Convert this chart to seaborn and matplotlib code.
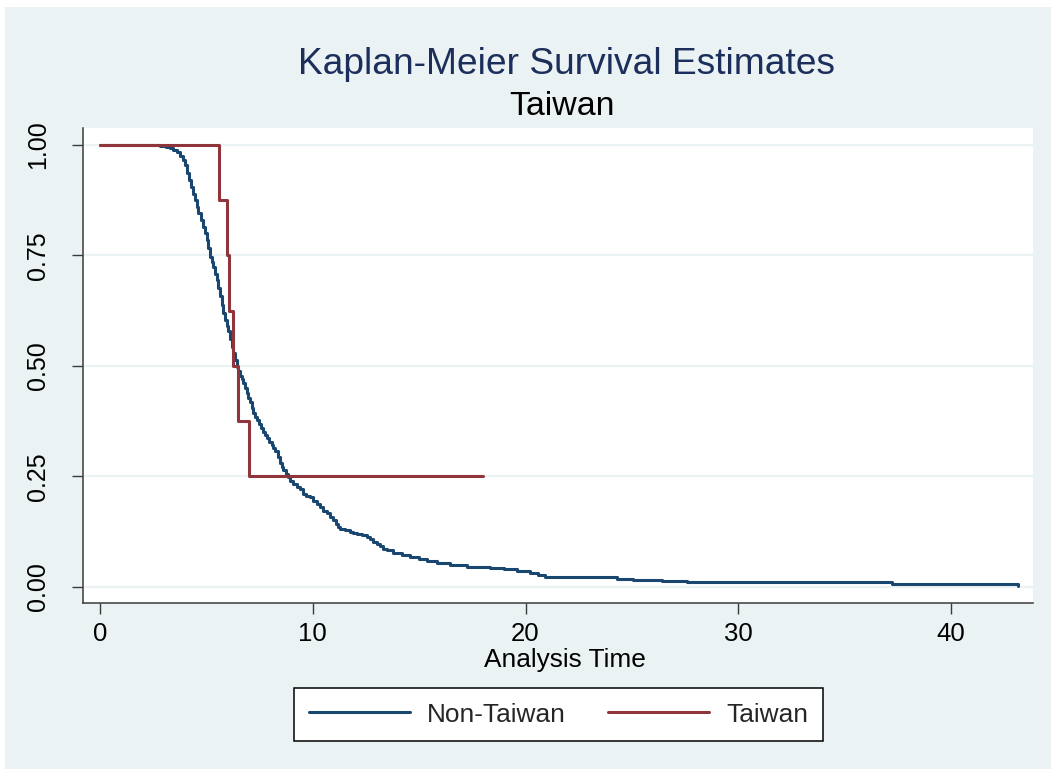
import numpy as np
import pandas as pd
import matplotlib
matplotlib.use("Agg")
import matplotlib.pyplot as plt
from matplotlib.patches import Rectangle
from matplotlib.lines import Line2D
import seaborn as sns

# ---- data ----
groups = ["Non-Taiwan", "Taiwan"]

non_taiwan_time = [0, 1.8, 2.8, 3.1, 3.29, 3.45, 3.60, 3.76, 3.89, 3.99, 4.07, 4.17, 4.26, 4.37,
                   4.47, 4.55, 4.62, 4.74, 4.86, 4.94, 5.01, 5.09, 5.17, 5.25, 5.33, 5.40, 5.48,
                   5.56, 5.64, 5.72, 5.80, 5.88, 5.96, 6.03, 6.11, 6.19, 6.27, 6.35, 6.42, 6.50,
                   6.58, 6.66, 6.74, 6.82, 6.90, 6.97, 7.05, 7.13, 7.21, 7.28, 7.36, 7.45, 7.55,
                   7.68, 7.75, 7.83, 7.95, 8.07, 8.15, 8.23, 8.35, 8.46, 8.55, 8.62, 8.73, 8.85,
                   8.95, 9.09, 9.24, 9.40, 9.56, 9.70, 9.87, 10.03, 10.19, 10.34, 10.50, 10.65,
                   10.81, 10.95, 11.10, 11.20, 11.28, 11.50, 11.75, 11.91, 12.1, 12.3, 12.53,
                   12.7, 12.85, 13.0, 13.16, 13.3, 13.5, 13.79, 14.2, 14.57, 15.0, 15.35, 15.82,
                   16.45, 17.23, 18.33, 19.0, 19.58, 20.2, 20.6, 20.9, 24.28, 25.07, 26.4, 27.6,
                   37.21, 43.13]
non_taiwan_surv = [1.0, 0.999, 0.997, 0.995, 0.9925, 0.988, 0.985, 0.974, 0.966, 0.955, 0.936,
                   0.921, 0.906, 0.890, 0.875, 0.860, 0.845, 0.830, 0.815, 0.800, 0.785, 0.766,
                   0.747, 0.736, 0.724, 0.709, 0.694, 0.676, 0.657, 0.638, 0.619, 0.604, 0.590,
                   0.578, 0.560, 0.543, 0.530, 0.514, 0.498, 0.488, 0.478, 0.470, 0.462, 0.450,
                   0.438, 0.427, 0.417, 0.405, 0.393, 0.385, 0.377, 0.368, 0.360, 0.350, 0.343,
                   0.337, 0.327, 0.320, 0.315, 0.308, 0.294, 0.279, 0.270, 0.264, 0.256, 0.249,
                   0.240, 0.233, 0.226, 0.220, 0.210, 0.206, 0.202, 0.195, 0.187, 0.180, 0.172,
                   0.166, 0.158, 0.150, 0.141, 0.134, 0.131, 0.128, 0.124, 0.122, 0.119, 0.116,
                   0.113, 0.108, 0.102, 0.096, 0.091, 0.086, 0.082, 0.077, 0.072, 0.068, 0.063,
                   0.059, 0.053, 0.048, 0.045, 0.042, 0.039, 0.036, 0.032, 0.026, 0.0226, 0.0174,
                   0.0159, 0.0136, 0.0113, 0.0068, 0.002]

taiwan_time = [0, 5.6, 5.95, 6.08, 6.23, 6.49, 7.0, 18.0]
taiwan_surv = [1.0, 0.875, 0.75, 0.625, 0.5, 0.375, 0.25, 0.25]

x_ticks = [0, 10, 20, 30, 40]
y_ticks = [0.0, 0.25, 0.50, 0.75, 1.0]
y_tick_labels = ["0.00", "0.25", "0.50", "0.75", "1.00"]

title = "Kaplan-Meier Survival Estimates"
subtitle = "Taiwan"
x_label = "Analysis Time"

# ---- styling ----
BG = "#EAF2F3"
NAVY = "#1A476F"
MAROON = "#90353B"
AXC = "#3A3A3A"

sns.set_theme(style="white")
plt.rcParams["font.family"] = ["Liberation Sans", "DejaVu Sans"]

W, H = 1051, 769
fig = plt.figure(figsize=(W / 100, H / 100), dpi=100, facecolor="white")
fig.patches.append(Rectangle((5 / W, 0), 1 - 5 / W, 1 - 7 / H, transform=fig.transFigure,
                             facecolor=BG, edgecolor="none", zorder=-10))

ax = fig.add_axes([83 / W, 1 - 603 / H, 950 / W, 475 / H])
ax.set_facecolor("white")

df = pd.concat([
    pd.DataFrame({"time": non_taiwan_time, "surv": non_taiwan_surv, "group": groups[0]}),
    pd.DataFrame({"time": taiwan_time, "surv": taiwan_surv, "group": groups[1]}),
], ignore_index=True)

sns.lineplot(data=df, x="time", y="surv", hue="group", hue_order=groups,
             palette=[NAVY, MAROON], estimator=None, sort=False,
             drawstyle="steps-post", linewidth=2.2, legend=False, ax=ax, zorder=3)

ax.set_xlim(-0.8, 43.85)
ax.set_ylim(-0.037, 1.0385)
ax.set_xticks(x_ticks)
ax.set_yticks(y_ticks)
ax.set_yticklabels(y_tick_labels)

for yv in y_ticks:
    ax.axhline(yv, color=BG, lw=1.6, zorder=1)

for s in ["top", "right"]:
    ax.spines[s].set_visible(False)
for s in ["left", "bottom"]:
    ax.spines[s].set_color(AXC)
    ax.spines[s].set_linewidth(1.1)

ax.tick_params(axis="x", direction="out", length=8, width=1, color=AXC, pad=5.5,
               labelsize=18.5, labelcolor="black", bottom=True)
ax.tick_params(axis="y", direction="out", length=8, width=1, color=AXC, pad=16,
               labelsize=18, labelcolor="black", left=True, labelrotation=90)
for lab in ax.get_yticklabels():
    lab.set_va("center")

ax.set_ylabel("")
ax.set_xlabel(x_label, fontsize=18.9, color="black")
ax.xaxis.set_label_coords((565 - 83) / 950, (603 - 647.5) / 475)

fig.text(567 / W, 1 - 73.5 / H, title, ha="center", va="baseline",
         fontsize=26.7, color="#1C2E5C")
fig.text(562 / W, 1 - 115 / H, subtitle, ha="center", va="baseline",
         fontsize=24.4, color="black")

handles = [Line2D([], [], color=NAVY, lw=2.2), Line2D([], [], color=MAROON, lw=2.2)]
leg = fig.legend(handles, groups, loc="center", bbox_to_anchor=(558.5 / W, 1 - 714.5 / H),
                 ncol=2, fontsize=18.9, handlelength=3.85, handletextpad=0.65,
                 columnspacing=1.62, borderpad=0.55, fancybox=False, framealpha=1,
                 edgecolor="black", facecolor="white")
leg.get_frame().set_linewidth(1.1)

fig.savefig("out.png", dpi=100, facecolor=fig.get_facecolor())
